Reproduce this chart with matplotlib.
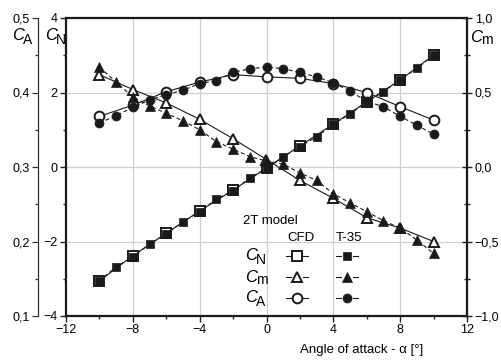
import matplotlib
matplotlib.use("Agg")
import matplotlib.pyplot as plt
from matplotlib.ticker import MultipleLocator, FuncFormatter
from matplotlib.transforms import offset_copy

plt.rcParams['font.family'] = ['Liberation Sans', 'DejaVu Sans']
plt.rcParams['axes.unicode_minus'] = True

# ---- data: 2T model, wind tunnel (T-35) and CFD ----
alpha_t35 = [-10, -9, -8, -7, -6, -5, -4, -3, -2, -1, 0, 1, 2, 3, 4, 5, 6, 7, 8, 9, 10]
cn_t35 = [-3.06, -2.68, -2.41, -2.07, -1.80, -1.47, -1.20, -0.86, -0.64, -0.29, -0.03,
          0.27, 0.55, 0.81, 1.15, 1.42, 1.75, 2.02, 2.34, 2.65, 3.00]
cm_t35 = [0.67, 0.57, 0.47, 0.41, 0.36, 0.31, 0.25, 0.17, 0.12, 0.07, 0.04,
          0.02, -0.04, -0.09, -0.18, -0.24, -0.30, -0.36, -0.41, -0.49, -0.58]
ca_t35 = [0.359, 0.369, 0.380, 0.390, 0.397, 0.403, 0.412, 0.416, 0.427, 0.432, 0.434,
          0.432, 0.427, 0.421, 0.413, 0.402, 0.388, 0.381, 0.368, 0.356, 0.344]

alpha_cfd = [-10, -8, -6, -4, -2, 0, 2, 4, 6, 8, 10]
cn_cfd = [-3.06, -2.38, -1.78, -1.18, -0.62, -0.03, 0.57, 1.15, 1.75, 2.34, 3.00]
cm_cfd = [0.62, 0.52, 0.43, 0.32, 0.19, 0.05, -0.09, -0.21, -0.34, -0.41, -0.50]
ca_cfd = [0.368, 0.383, 0.401, 0.414, 0.424, 0.421, 0.419, 0.412, 0.400, 0.381, 0.363]

x_ticks = [-12, -8, -4, 0, 4, 8, 12]

W, H = 501, 363
fig = plt.figure(figsize=(W / 100, H / 100), dpi=100)
ax = fig.add_axes([66 / W, 47 / H, 401 / W, 298 / H])
ax_ca = ax.twinx()
ax_cm = ax.twinx()

FS = 9
SPW = 1.6


def comma(v, _):
    s = f"{v:.1f}".replace('.', ',')
    return s.replace('-', '\u2212')


# main axis (C_N)
ax.set_xlim(-12, 12)
ax.set_ylim(-4, 4)
ax.set_xticks(x_ticks)
ax.xaxis.set_minor_locator(MultipleLocator(2))
ax.yaxis.set_major_locator(MultipleLocator(2))
ax.yaxis.set_minor_locator(MultipleLocator(1))
ax.tick_params(axis='both', which='major', direction='out', length=4, width=1,
               labelsize=FS, pad=2, color='#222222')
ax.tick_params(axis='both', which='minor', direction='out', length=2.5, width=1,
               color='#222222')
ax.tick_params(axis='y', which='both', right=False)
ax.tick_params(axis='x', which='both', top=False)
for s in ['left', 'bottom', 'top']:
    ax.spines[s].set_linewidth(SPW)
    ax.spines[s].set_color('#1a1a1a')
ax.spines['right'].set_visible(False)
for g in [-8, -4, 0, 4, 8]:
    ax.axvline(g, color='#cfcfcf', lw=0.9, zorder=0)
for g in [-2, 0, 2]:
    ax.axhline(g, color='#cfcfcf', lw=0.9, zorder=0)

# C_A axis, offset to the left
ax_ca.set_ylim(0.1, 0.5)
ax_ca.yaxis.set_ticks_position('left')
ax_ca.yaxis.set_label_position('left')
for s in ['right', 'top', 'bottom']:
    ax_ca.spines[s].set_visible(False)
ax_ca.spines['left'].set_position(('outward', 20))
ax_ca.spines['left'].set_linewidth(0.9)
ax_ca.spines['left'].set_color('#333333')
ax_ca.yaxis.set_major_locator(MultipleLocator(0.1))
ax_ca.yaxis.set_minor_locator(MultipleLocator(0.05))
ax_ca.yaxis.set_major_formatter(FuncFormatter(comma))
ax_ca.tick_params(axis='y', which='major', direction='out', length=4, width=0.9,
                  labelsize=FS, pad=2, color='#333333')
ax_ca.tick_params(axis='y', which='minor', direction='out', length=2.5, width=0.9,
                  color='#333333')

# C_m axis on the right
ax_cm.set_ylim(-1, 1)
for s in ['left', 'top', 'bottom']:
    ax_cm.spines[s].set_visible(False)
ax_cm.spines['right'].set_linewidth(SPW)
ax_cm.spines['right'].set_color('#1a1a1a')
ax_cm.yaxis.set_major_locator(MultipleLocator(0.5))
ax_cm.yaxis.set_minor_locator(MultipleLocator(0.25))
ax_cm.yaxis.set_major_formatter(FuncFormatter(comma))
ax_cm.tick_params(axis='y', which='major', direction='inout', length=7, width=1,
                  labelsize=FS, pad=2, color='#222222')
ax_cm.tick_params(axis='y', which='minor', direction='inout', length=5, width=1,
                  color='#222222')

# curves
LW = 0.8
DASH = (0, (3.5, 2.5))
cfd_style = dict(color='#1a1a1a', lw=LW, ls='-', mfc='white', mec='#1a1a1a', mew=1.4,
                 clip_on=False)
t35_style = dict(color='#1a1a1a', lw=LW, ls=DASH, mfc='#1a1a1a', mec='#1a1a1a', mew=0.5,
                 clip_on=False)

ax.plot(alpha_cfd, cn_cfd, marker='s', ms=6.5, **cfd_style)
ax.plot(alpha_t35, cn_t35, marker='s', ms=5.5, **t35_style)
ax_cm.plot(alpha_cfd, cm_cfd, marker='^', ms=7.5, **cfd_style)
ax_cm.plot(alpha_t35, cm_t35, marker='^', ms=7, **t35_style)
ax_ca.plot(alpha_cfd, ca_cfd, marker='o', ms=7, **cfd_style)
ax_ca.plot(alpha_t35, ca_t35, marker='o', ms=6.5, **t35_style)


def coeff_label(x, y, sub, transform, size=12):
    """Italic C with an upright subscript placed just below-right."""
    t = fig.text(x, y, 'C', fontsize=size, fontstyle='italic', ha='left', va='center',
                 transform=transform)
    fig.canvas.draw()
    bb = t.get_window_extent()
    tr = offset_copy(transform, fig=fig, x=(bb.width - 1) * 72 / 100, y=-3.5 * 72 / 100,
                     units='points')
    fig.text(x, y, sub, fontsize=size - 2, ha='left', va='center', transform=tr)


# axis titles
coeff_label(12 / W, 1 - 36 / H, 'A', fig.transFigure)
coeff_label(45 / W, 1 - 36 / H, 'N', fig.transFigure)
coeff_label(470 / W, 1 - 37 / H, 'm', fig.transFigure)

fig.text(362 / W, 1 - 350 / H, 'Angle of attack - \u03b1 [\u00b0]', fontsize=FS + 0.5,
         ha='center', va='center')

# key block inside the plot
def ax_xy(px, py):
    return (px - 66) / 401, (316 - py) / 298


tx, ty = ax_xy(243, 221)
ax.text(tx, ty, '2T model', transform=ax.transAxes, fontsize=FS + 0.5, ha='left', va='center')
tx, ty = ax_xy(301, 238)
ax.text(tx, ty, 'CFD', transform=ax.transAxes, fontsize=FS + 0.5, ha='center', va='center')
tx, ty = ax_xy(349, 238)
ax.text(tx, ty, 'T-35', transform=ax.transAxes, fontsize=FS + 0.5, ha='center', va='center')

rows = [('N', 's', 256, 6.5, 5.5), ('m', '^', 277, 7.5, 7), ('A', 'o', 298, 7, 6.5)]
for sub, mk, py, ms_c, ms_t in rows:
    lx, ly = ax_xy(245, py)
    coeff_label(lx, ly, sub, ax.transAxes)
    for cx, filled, ms in [(297, False, ms_c), (347, True, ms_t)]:
        x0, yy = ax_xy(cx, py)
        d_out = 11 / 401
        d_in = 6 / 401
        for a, b in [(x0 - d_out, x0 - d_in), (x0 + d_in, x0 + d_out)]:
            ax.plot([a, b], [yy, yy], transform=ax.transAxes, color='#1a1a1a', lw=LW,
                    clip_on=False)
        ax.plot([x0], [yy], transform=ax.transAxes, marker=mk, ms=ms, ls='none',
                mfc='#1a1a1a' if filled else 'white', mec='#1a1a1a',
                mew=0.5 if filled else 1.4, clip_on=False)

fig.savefig('out.png', dpi=100)
